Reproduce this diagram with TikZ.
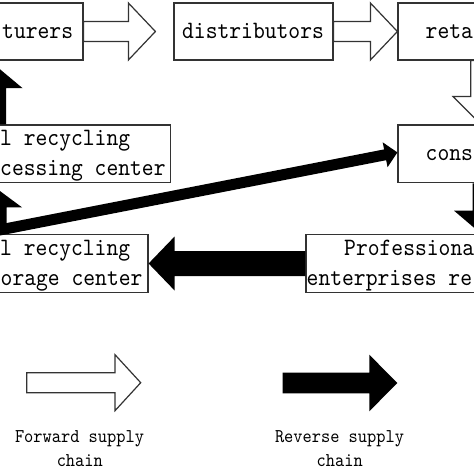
\documentclass[tikz,border=0pt]{standalone}
\usepackage{fontspec}
\newfontfamily\monofont{lmmono10-regular.otf}[FakeStretch=0.9]
\usetikzlibrary{calc}
\tikzset{
  box/.style={draw=black!80, line width=1.2pt, rectangle, inner sep=0pt},
  txt/.style={inner sep=0pt, font=\monofont\fontsize{25}{30}\selectfont},
  legtxt/.style={inner sep=0pt, font=\monofont\fontsize{19.5}{23.4}\selectfont},
  fwd/.style={draw=black!80, line width=1.2pt, fill=white, line join=miter},
  rev/.style={fill=black},
}
% #1 from, #2 to, #3 shaft half width, #4 head half width, #5 head length, #6 style
\newcommand\bigarrow[6]{%
  \coordinate (ah) at ($(#2)!#5!(#1)$);
  \path[#6] ($(#1)!#3!90:(#2)$) -- ($(ah)!#3!-90:(#1)$) -- ($(ah)!#4!-90:(#1)$)
    -- (#2) -- ($(ah)!#4!90:(#1)$) -- ($(ah)!#3!90:(#1)$) -- ($(#1)!#3!-90:(#2)$) -- cycle;}
\begin{document}
\begin{tikzpicture}[x=1pt, y=-1pt]
\useasboundingbox (0,0) rectangle (474,474);
\fill[white] (0,0) rectangle (474,474);
\clip (0,0) rectangle (474,474);

% boxes
\node[box, minimum width=176pt, minimum height=57pt] (man) at (-5,31.5) {};
\node[box, minimum width=159pt, minimum height=57pt] (dist) at (253.5,31.5) {};
\node[box, minimum width=166pt, minimum height=57pt] (ret) at (481,31.5) {};
\node[box, minimum width=166pt, minimum height=57.7pt] (cons) at (481,153.9) {};
\node[box, minimum width=350pt, minimum height=58.5pt] (prof) at (481,263.5) {};
\node[box, minimum width=306pt, minimum height=58pt] (stor) at (-5,263.5) {};
\node[box, minimum width=351.4pt, minimum height=57.7pt] (proc) at (-5,153.9) {};

% texts
\node[txt, anchor=base east] (tman) at (73.3,38.3) {turers};
\node[txt, anchor=base] (tdist) at (253,38.3) {distributors};
\node[txt, anchor=base west] (tret) at (425.5,38.3) {reta};
\node[txt, anchor=base west] (tcons) at (425.5,160) {cons};
\node[txt, anchor=base west] (tproc1) at (0,145) {l recycling};
\node[txt, anchor=base west] (tproc2) at (0,175) {cessing center};
\node[txt, anchor=base west] (tstor1) at (0,255) {l recycling};
\node[txt, anchor=base west] (tstor2) at (0.5,285) {orage center};
\node[txt, anchor=base west] (tprof1) at (344,255) {Professiona};
\node[txt, anchor=base west] (tprof2) at (306.5,285) {enterprises re};

% helper coordinates
\coordinate (f1tip) at ($(dist.west)+(-18,0)$);
\coordinate (t6) at ($(proc.south)+(0,4)$);
\coordinate (t7) at ($(man.south)+(0,4.5)$);
\coordinate (ds) at ($(stor.north)+(0,-3)$);
\coordinate (dt) at ($(cons.west)+(0,-1.5)$);

% forward arrows
\bigarrow{man.east}{f1tip}{10pt}{28.5pt}{27pt}{fwd}
\bigarrow{dist.east}{ret.west}{10pt}{28.5pt}{27pt}{fwd}
\bigarrow{ret.south}{cons.north}{10.3pt}{28pt}{28pt}{fwd}

% reverse arrows
\bigarrow{cons.south}{prof.north}{8.5pt}{27pt}{23pt}{rev}
\bigarrow{prof.west}{stor.east}{12.5pt}{27pt}{26pt}{rev}
\bigarrow{stor.north}{t6}{11.5pt}{27pt}{20pt}{rev}
\bigarrow{proc.north}{t7}{11pt}{27.5pt}{23pt}{rev}
\bigarrow{ds}{dt}{5.5pt}{12.7pt}{12.5pt}{rev}

% legend
\coordinate (lw1) at (26.7,382.7);
\coordinate (lw2) at (140.7,382.7);
\coordinate (lb1) at (282.7,383);
\coordinate (lb2) at (397.3,383);
\bigarrow{lw1}{lw2}{10pt}{28pt}{25.7pt}{fwd}
\bigarrow{lb1}{lb2}{10.3pt}{28.3pt}{28pt}{rev}
\node[legtxt, anchor=base] (lf1) at (79.5,442.7) {Forward supply};
\node[legtxt, anchor=base] (lf2) at (79.8,466) {chain};
\node[legtxt, anchor=base] (lr1) at (339.5,442.7) {Reverse supply};
\node[legtxt, anchor=base] (lr2) at (339.7,466) {chain};
\end{tikzpicture}
\end{document}
